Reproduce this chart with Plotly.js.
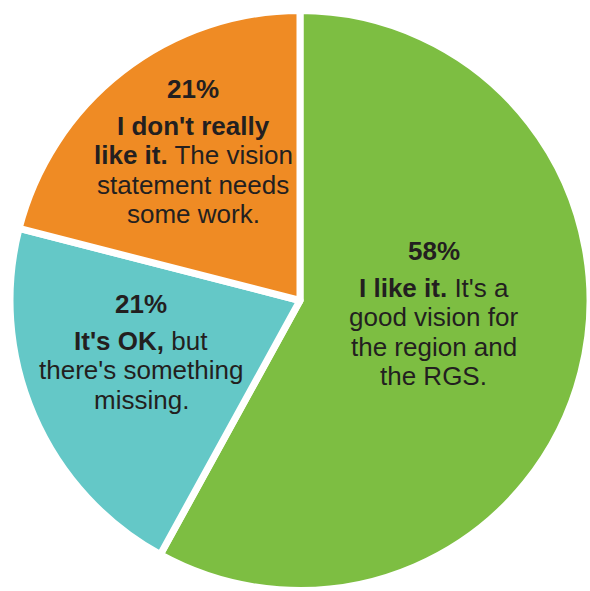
<!DOCTYPE html>
<html>
<head>
<meta charset="utf-8">
<script src="https://cdn.plot.ly/plotly-3.0.1.min.js"></script>
<style>html,body{margin:0;padding:0;background:#fff;}#chart{width:590px;height:591px;}</style>
</head>
<body>
<div id="chart"></div>
<script>
const labels = ["I like it.", "It's OK,", "I don't really like it."];
const values = [58, 21, 21];
const pctLabels = ["58%", "21%", "21%"];
const textLines = [
  ["<b>I like it.</b> It's a", "good vision for", "the region and", "the RGS."],
  ["<b>It's OK,</b> but", "there's something", "missing."],
  ["<b>I don't really</b>", "<b>like it.</b> The vision", "statement needs", "some work."]
];
const colors = ["#7DBE42", "#64C8C7", "#EF8B24"];

// label block placement (pixels): center x, baseline of percent line
const W = 590, H = 591, FS = 26;
const ASC = 0.905, DESC = 0.212;
const blockPos = [[434, 260], [141, 313], [193, 98]];
const pctGap = 37, lineGap = 29.5;

const annotations = [];
labels.forEach((l, i) => {
  const lines = ["<b>" + pctLabels[i] + "</b>"].concat(textLines[i]);
  lines.forEach((t, j) => {
    const base = blockPos[i][1] + (j === 0 ? 0 : pctGap + (j - 1) * lineGap);
    const mid = base + DESC * FS - (ASC + DESC) * FS / 2;
    annotations.push({
      text: t, x: blockPos[i][0] / W, y: 1 - mid / H,
      xref: "paper", yref: "paper", xanchor: "center", yanchor: "middle",
      borderpad: 0, borderwidth: 0,
      showarrow: false, align: "center",
      font: {family: "'Liberation Sans', Arial, sans-serif", size: FS, color: "#231F20"}
    });
  });
});

Plotly.newPlot("chart", [{
  type: "pie",
  labels: labels,
  values: values,
  sort: false,
  direction: "clockwise",
  rotation: 0,
  textinfo: "none",
  hoverinfo: "none",
  marker: {colors: colors, line: {color: "#ffffff", width: 7}},
  domain: {x: [10/590, 1], y: [0, 1 - 10/591]}
}], {
  width: W, height: H,
  margin: {l: 0, r: 0, t: 0, b: 0},
  showlegend: false,
  paper_bgcolor: "#ffffff",
  annotations: annotations
}, {displayModeBar: false, staticPlot: true});
</script>
</body>
</html>
